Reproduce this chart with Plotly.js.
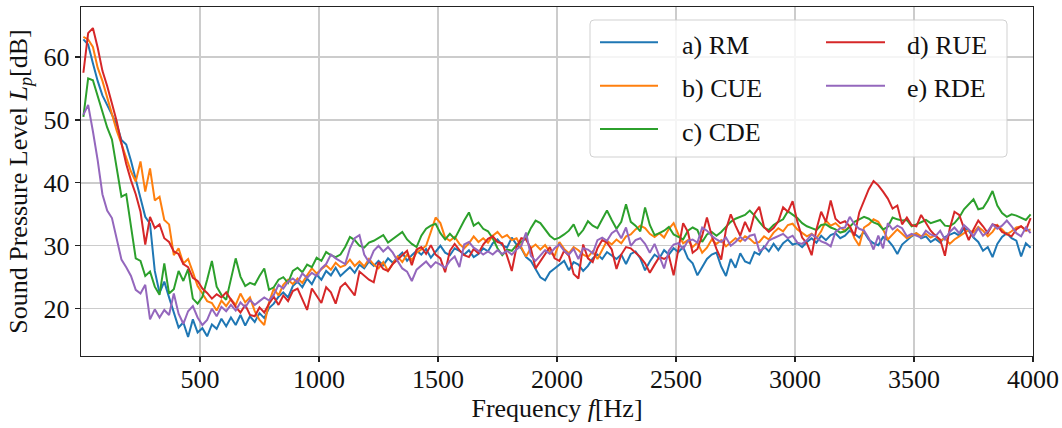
<!DOCTYPE html>
<html>
<head>
<meta charset="utf-8">
<script src="https://cdn.plot.ly/plotly-3.0.1.min.js"></script>
<style>
  html, body { margin: 0; padding: 0; background: #ffffff; }
  #chart { width: 1062px; height: 428px; }
</style>
</head>
<body>
<div id="chart"></div>
<script>
// Frequency grid (Hz): first bin and spacing of the sampled spectrum
const FREQ_START = 10;
const FREQ_STEP = 20;
const N_BINS = 200;
const freq = [];
for (let i = 0; i < N_BINS; i++) freq.push(FREQ_START + FREQ_STEP * i);

const seriesNames = ["a) RM", "b) CUE", "c) CDE", "d) RUE", "e) RDE"];
const seriesColors = ["#1f77b4", "#ff7f0e", "#2ca02c", "#d62728", "#9467bd"];

const lpRM = [
  62.8, 62.0, 59.0, 56.2, 53.9, 52.4, 51.0, 49.3, 46.8, 46.1,
  43.5, 40.5, 37.8, 34.6, 33.5, 26.0, 22.5, 24.3, 21.8, 19.2,
  17.0, 17.8, 15.5, 18.3, 16.2, 16.9, 15.6, 17.5, 16.8, 18.4,
  17.2, 18.6, 17.4, 19.0, 17.3, 18.8, 17.9, 19.3, 18.5, 20.1,
  20.8, 21.9, 22.6, 21.8, 23.6, 24.3, 23.4, 24.8, 23.9, 25.4,
  24.6, 26.0, 25.3, 26.5, 25.2, 25.9, 26.6, 25.7, 27.0, 26.4,
  27.5, 26.8, 27.6, 26.9, 28.0, 27.3, 28.2, 28.9, 27.6, 28.5,
  29.2, 28.6, 29.5, 28.1, 29.0, 30.0, 28.9, 28.5, 29.6, 29.2,
  28.6, 29.3, 28.2, 28.7, 29.6, 29.1, 30.4, 31.0, 30.1, 29.7,
  31.3, 30.2, 29.6, 28.2, 27.6, 26.3, 25.0, 24.5, 25.8, 26.4,
  27.0, 27.6, 26.1, 27.4, 27.0, 26.0, 26.8, 28.0, 28.6, 27.9,
  29.0, 28.5, 27.9, 28.6, 27.1, 28.7, 29.1, 28.0, 26.1, 27.5,
  28.6, 28.0, 29.3, 28.6, 29.6, 29.0, 29.8, 28.0, 27.2, 25.3,
  26.6, 27.9, 28.6, 28.9, 26.7, 25.2, 27.9, 26.5, 28.8, 27.5,
  27.2, 29.0, 28.6, 29.9, 29.1, 30.3, 29.3, 30.4, 31.0, 30.2,
  30.4, 29.8, 30.6, 31.2, 30.5, 31.6, 30.9, 31.7, 32.0, 31.2,
  31.6, 32.4, 31.9, 31.3, 32.2, 31.0, 30.4, 30.1, 31.4, 30.9,
  30.0, 28.7, 30.2, 30.9, 31.5, 32.0, 31.2, 31.5, 30.6, 31.1,
  30.5, 31.4, 31.8, 32.1, 31.6, 32.8, 32.4, 31.3, 30.6, 29.2,
  29.8, 28.2, 30.3, 31.4, 32.0, 31.2, 30.8, 28.3, 30.4, 29.7
];

const lpCUE = [
  63.2, 62.8, 61.6, 58.3, 56.2, 53.6, 51.0, 48.3, 46.2, 44.0,
  41.8, 40.2, 43.4, 38.6, 42.3, 37.2, 37.8, 34.1, 33.4, 28.5,
  29.6, 27.2, 27.9, 25.8, 23.6, 22.4, 21.2, 20.9, 19.7, 21.3,
  20.4, 21.5, 20.6, 22.4, 21.0, 21.8, 19.6, 18.2, 17.4, 21.0,
  23.2, 22.1, 23.8, 24.6, 23.9, 24.8, 24.1, 25.3, 26.4, 25.6,
  26.3, 26.9, 26.2, 27.3, 26.6, 26.9, 27.8, 26.8, 27.5, 26.7,
  27.9, 27.0, 26.4, 27.4, 26.0, 27.2, 28.3, 27.4, 28.6, 27.7,
  28.9, 29.4, 30.0, 32.2, 34.5, 33.6, 31.3, 30.8, 31.4, 30.3,
  29.6, 30.4, 31.5, 30.6, 31.2, 30.5, 31.6, 32.2, 31.3, 31.7,
  30.9, 31.2, 29.8, 28.3, 29.6, 30.2, 29.4, 30.1, 29.0, 28.4,
  30.6, 29.5, 28.8, 29.8, 29.3, 28.6, 28.2, 29.1, 27.9, 29.4,
  30.8, 30.2, 31.0, 30.4, 31.5, 31.8, 32.6, 33.2, 32.8, 31.9,
  31.4, 32.0, 31.3, 32.7, 33.6, 31.8, 30.4, 30.9, 29.8, 30.5,
  28.9, 29.7, 31.0, 30.3, 30.9, 29.9, 30.5, 31.2, 30.7, 31.5,
  31.1, 30.4, 30.6, 31.5, 31.0, 32.1, 32.8, 32.3, 33.3, 33.5,
  32.6, 32.0, 31.5, 31.9, 31.2, 32.3, 34.0, 33.2, 33.6, 32.9,
  32.4, 33.1, 31.2, 30.0, 32.9, 33.4, 34.2, 33.8, 32.6, 31.0,
  31.8, 32.6, 31.9, 31.2, 31.6, 32.0, 31.5, 31.9, 31.3, 31.7,
  30.8, 31.2, 30.3, 31.0, 31.5, 32.0, 32.5, 32.1, 33.0, 32.4,
  31.5, 32.2, 33.3, 32.6, 31.8, 32.3, 32.9, 33.1, 32.4, 32.6
];

const lpCDE = [
  50.5, 56.6, 56.3, 53.9, 51.5, 48.8, 46.9, 42.5, 37.8, 38.2,
  33.2, 28.0, 27.6, 25.2, 25.9, 23.5, 22.2, 27.2, 22.4, 23.1,
  26.0, 24.4, 26.3, 21.6, 20.8, 21.9, 24.6, 27.6, 23.5, 22.2,
  21.4, 24.8, 28.0, 25.1, 23.6, 24.1, 23.8, 25.2, 26.4, 23.0,
  23.4, 24.6, 25.0, 24.1, 26.0, 26.5, 25.8, 27.0, 26.6, 28.1,
  27.6, 29.0, 28.5, 28.2, 28.6, 29.8, 31.4, 30.9, 30.0, 29.7,
  30.5, 30.8, 31.3, 31.7, 30.5, 31.1, 31.6, 32.2, 31.0, 30.3,
  29.8, 31.6, 32.7, 33.2, 33.5, 32.0, 31.0, 31.9, 31.1, 32.6,
  34.0, 35.3, 33.2, 33.7, 32.7, 32.3, 31.2, 29.6, 28.5, 29.4,
  29.2, 30.1, 30.6, 31.2, 32.8, 34.0, 33.6, 32.6, 31.6, 31.0,
  31.3, 31.8, 32.4, 33.4, 31.6, 32.5, 33.9, 33.2, 32.8, 34.2,
  35.6, 34.1, 32.7, 33.8, 36.6, 33.8, 33.2, 32.3, 36.1, 33.3,
  31.7, 32.0, 32.4, 33.0, 31.8, 31.4, 31.0, 32.4, 32.9, 32.5,
  30.6, 31.8, 32.2, 31.6, 32.2, 33.0, 33.8, 34.3, 34.6, 34.9,
  35.6, 34.8, 33.8, 32.9, 32.5, 33.3, 33.8, 34.2, 35.5, 35.0,
  34.4, 33.6, 33.1, 32.8, 32.5, 33.3, 33.4, 32.9, 32.6, 32.1,
  32.3, 33.0, 33.8, 34.2, 34.6, 34.3, 33.7, 33.4, 32.6, 33.0,
  34.5, 34.2, 34.0, 34.1, 33.1, 33.4, 33.7, 34.1, 33.6, 33.8,
  34.1, 33.2, 33.1, 33.6, 34.5, 35.8, 36.6, 37.4, 35.8, 36.0,
  37.2, 38.7, 36.4, 35.2, 34.6, 35.0, 34.8, 34.4, 34.1, 35.0
];

const lpRUE = [
  57.5, 63.8, 64.6, 61.5, 57.8, 55.4, 52.6, 49.8, 46.3, 43.0,
  40.4, 38.2, 35.4, 30.2, 34.6, 32.8, 33.4, 31.2, 30.6, 29.1,
  28.7, 27.1, 26.6, 24.9, 24.4, 23.2, 22.5, 21.6, 22.3, 21.8,
  22.6, 21.4, 20.3, 19.4, 20.6, 19.0, 18.8, 20.2, 19.4, 20.8,
  21.9, 20.6, 22.1, 21.2, 22.8, 23.2, 21.6, 19.8, 23.2, 22.0,
  20.9, 23.4, 22.6, 20.8, 23.4, 24.1, 23.0, 22.1, 25.9, 25.2,
  24.6, 24.2, 27.4, 26.3, 26.0, 27.1, 27.8, 28.6, 29.2, 26.9,
  29.4, 29.8, 28.7, 30.1, 28.6, 28.0, 25.8, 29.2, 30.3, 29.3,
  28.5, 28.2, 29.5, 28.8, 30.2, 31.1, 31.5, 30.6, 30.4, 28.4,
  26.0, 29.8, 31.2, 31.0, 29.6, 26.4, 27.6, 28.8, 29.8, 28.0,
  27.6, 29.2, 28.4, 25.5, 24.8, 30.2, 28.0, 27.4, 29.6, 30.9,
  30.5, 29.4, 26.3, 28.6, 29.8, 29.6, 28.9, 28.2, 27.2, 25.7,
  27.0, 28.2, 27.9, 28.4, 25.3, 29.8, 33.6, 32.2, 28.9, 29.5,
  31.6, 34.5, 31.6, 29.5, 27.8, 32.6, 35.0, 33.2, 31.6, 33.8,
  32.2, 35.1, 36.2, 33.0, 32.2, 32.8, 33.9, 36.1, 35.4, 37.1,
  33.8, 31.3, 30.4, 28.5, 32.6, 35.4, 33.8, 37.2, 34.3, 33.6,
  33.9, 33.1, 31.6, 35.3, 37.2, 39.0, 40.3, 39.6, 38.6, 37.5,
  35.9, 36.4, 33.4, 34.5, 33.3, 33.1, 34.9, 33.6, 32.4, 31.6,
  31.0, 28.4, 32.7, 35.4, 34.9, 32.8, 30.9, 32.6, 34.0, 33.1,
  32.0, 33.4, 33.2, 32.2, 31.8, 31.5, 32.6, 33.1, 32.5, 34.4
];

const lpRDE = [
  50.8, 52.4, 48.2, 43.6, 38.2, 35.6, 34.4, 30.9, 27.8, 26.6,
  25.2, 23.0, 22.4, 23.8, 18.3, 19.9, 18.6, 19.8, 19.0, 22.4,
  19.2, 17.6, 19.6, 20.4, 18.6, 17.4, 18.2, 20.0, 18.8, 20.3,
  19.6, 20.6, 19.7, 21.0, 20.2, 21.4, 20.6, 21.2, 21.8, 21.3,
  22.2, 23.8, 23.2, 24.3, 24.8, 24.2, 25.6, 24.9, 25.7, 25.2,
  26.4, 27.1, 28.6, 28.0, 27.5, 27.1, 29.6, 31.2, 31.7, 28.6,
  27.4, 29.2, 30.0, 29.1, 29.8, 28.9, 27.6, 26.4, 25.9, 24.4,
  26.2, 26.9, 27.5, 26.6, 27.4, 27.0, 26.5, 27.6, 28.3, 26.6,
  30.2, 30.6, 29.7, 29.2, 28.6, 29.1, 28.6, 29.3, 28.7, 29.2,
  28.6, 29.4, 30.0, 32.1, 28.4, 27.6, 28.5, 29.3, 28.7, 29.6,
  30.2, 29.2, 28.6, 29.5, 27.9, 29.6, 29.4, 28.8, 30.9, 31.3,
  30.8, 32.0, 32.5, 31.2, 32.9, 30.0, 30.9, 31.2, 30.3, 28.9,
  30.3, 28.5, 26.4, 29.2, 30.2, 30.4, 29.5, 30.8, 31.0, 30.5,
  32.9, 32.4, 31.6, 31.0, 30.6, 31.3, 30.0, 30.6, 31.4, 30.8,
  31.6, 31.8, 29.2, 29.6, 30.8, 31.2, 31.5, 31.9, 31.2, 31.6,
  30.5, 30.3, 30.9, 31.8, 31.3, 30.7, 30.4, 29.9, 32.2, 32.8,
  32.9, 34.6, 33.4, 32.7, 32.4, 31.2, 29.4, 31.6, 29.6, 33.6,
  32.6, 33.2, 32.8, 31.5, 31.9, 31.6, 31.3, 32.4, 31.8, 31.5,
  32.4, 31.0, 32.2, 32.9, 32.0, 33.3, 32.6, 31.5, 32.8, 31.6,
  32.3, 33.4, 32.7, 33.2, 34.0, 33.1, 32.0, 31.5, 32.9, 32.0
];

const seriesValues = [lpRM, lpCUE, lpCDE, lpRUE, lpRDE];
const xTickVals = [500, 1000, 1500, 2000, 2500, 3000, 3500, 4000];
const yTickVals = [20, 30, 40, 50, 60];

const FONT = "'Liberation Serif', 'DejaVu Serif', serif";
const FS = 26;

const traces = seriesValues.map((ys, k) => ({
  type: 'scatter',
  mode: 'lines',
  x: freq,
  y: ys,
  name: seriesNames[k],
  line: { color: seriesColors[k], width: 2 },
  showlegend: false,
  hoverinfo: 'skip'
}));

// Hand-drawn legend (two columns, matplotlib style) in paper coordinates
const L = 81, T = 7, W = 952, H = 349;
const px2x = p => (p - L) / W;
const py2y = p => (T + H - p) / H;
const rowsPx = [42.3, 85.7, 129.0];
const colLinePx = [[600, 658], [826, 885]];
const colTextPx = [680, 905];

const shapes = [{
  type: 'path', layer: 'above',
  xref: 'paper', yref: 'paper', xsizemode: 'pixel', ysizemode: 'pixel',
  xanchor: 0, yanchor: 1,
  path: 'M 513,-13 L 922,-13 Q 926,-13 926,-17 L 926,-146 Q 926,-150 922,-150 L 513,-150 Q 509,-150 509,-146 L 509,-17 Q 509,-13 513,-13 Z',
  fillcolor: 'rgba(255,255,255,0.8)',
  line: { color: 'rgba(204,204,204,0.9)', width: 1 }
}];
const annotations = [];
seriesNames.forEach((nm, k) => {
  const col = k < 3 ? 0 : 1;
  const row = k < 3 ? k : k - 3;
  const yy = py2y(rowsPx[row]);
  shapes.push({
    type: 'line', layer: 'above', xref: 'paper', yref: 'paper',
    x0: px2x(colLinePx[col][0]), x1: px2x(colLinePx[col][1]), y0: yy, y1: yy,
    line: { color: seriesColors[k], width: 2 }
  });
  annotations.push({
    xref: 'paper', yref: 'paper', x: px2x(colTextPx[col]), y: py2y(rowsPx[row] + 3),
    xanchor: 'left', yanchor: 'middle', showarrow: false, text: nm,
    font: { family: FONT, size: FS, color: '#111111' }
  });
});

const layout = {
  width: 1062, height: 428,
  margin: { l: L, r: 1062 - L - W, t: T, b: 428 - T - H, pad: 0 },
  paper_bgcolor: '#ffffff', plot_bgcolor: '#ffffff',
  font: { family: FONT, size: FS, color: '#111111' },
  showlegend: false,
  xaxis: {
    range: [0, 4000], tickmode: 'array', tickvals: xTickVals,
    ticks: 'outside', ticklen: 5, tickwidth: 1.2, tickcolor: '#222222',
    ticklabelstandoff: -6,
    showgrid: true, gridcolor: '#cccccc', gridwidth: 1.4,
    showline: true, linecolor: '#222222', linewidth: 1.4, mirror: true,
    zeroline: false, automargin: false,
    tickfont: { family: FONT, size: FS, color: '#111111' },
    title: { text: 'Frequency <i>f</i>[Hz]', font: { family: FONT, size: FS, color: '#111111' }, standoff: 6 }
  },
  yaxis: {
    range: [12.48, 67.95], tickmode: 'array', tickvals: yTickVals,
    ticks: 'outside', ticklen: 5, tickwidth: 1.2, tickcolor: '#222222',
    showgrid: true, gridcolor: '#cccccc', gridwidth: 1.4,
    showline: true, linecolor: '#222222', linewidth: 1.4, mirror: true,
    zeroline: false, automargin: false,
    tickfont: { family: FONT, size: FS, color: '#111111' },
    title: { text: 'Sound Pressure Level <i>L</i><sub><i>p</i></sub>[dB]', font: { family: FONT, size: FS, color: '#111111' }, standoff: 8 }
  },
  shapes: shapes,
  annotations: annotations
};

Plotly.newPlot('chart', traces, layout, { displayModeBar: false, staticPlot: true });
</script>
</body>
</html>
